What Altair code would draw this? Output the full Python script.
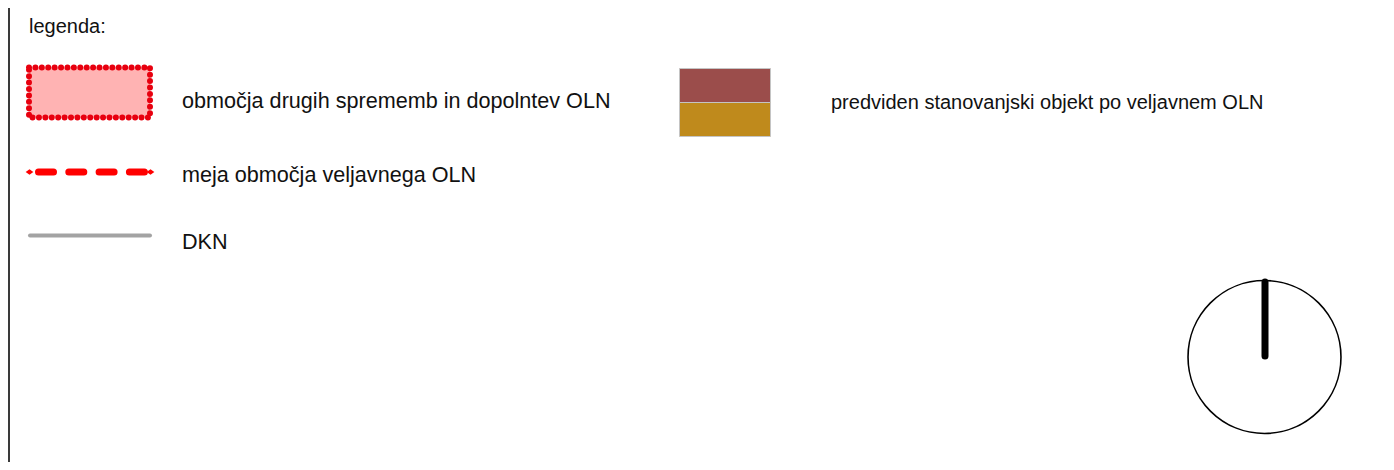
import altair as alt
import pandas as pd

# ---- content -------------------------------------------------------------
legend_title = ["legenda:"]
left_labels = [
    "območja drugih sprememb in dopolntev OLN",
    "meja območja veljavnega OLN",
    "DKN",
]
right_labels = ["predviden stanovanjski objekt po veljavnem OLN"]
building_parts = ["streha", "objekt"]
building_colors = ["#9b4d4b", "#bf8a1c"]

# ---- layout (reference-image pixel space) --------------------------------
left_label_base = [108, 182, 249]
SX = alt.Scale(domain=[0, 1394], range=[-8, 1386], nice=False, zero=False)
SY = alt.Scale(domain=[0, 470], range=[-8, 462], nice=False, zero=False)


def X(f="x"):
    return alt.X(f"{f}:Q", scale=SX, axis=None)


def Y(f="y"):
    return alt.Y(f"{f}:Q", scale=SY, axis=None)


border = alt.Chart(pd.DataFrame({"x": [9], "y": [0], "y2": [470]})).mark_rule(
    color="#3a3a3a", strokeWidth=2
).encode(x=X(), y=Y(), y2="y2:Q")

zone = alt.Chart(pd.DataFrame({"x": [29], "x2": [150], "y": [67.5], "y2": [117.5]})).mark_rect(
    fill="#ffb3b3", stroke="#e8000f", strokeWidth=6, strokeDash=[0.01, 6.4], strokeCap="round"
).encode(x=X(), x2="x2:Q", y=Y(), y2="y2:Q")

boundary = alt.Chart(pd.DataFrame({"x": [38.5], "x2": [144.4], "y": [172]})).mark_rule(
    color="#ff0000", strokeWidth=7, strokeDash=[15, 15.3], strokeCap="round"
).encode(x=X(), x2="x2:Q", y=Y())

boundary_ends = alt.Chart(pd.DataFrame({"x": [29.5, 150.5], "y": [172, 172]})).mark_point(
    shape="M-1,0L0,-0.7L1,0L0,0.7Z", filled=True, color="#ff0000", size=60, opacity=1
).encode(x=X(), y=Y())

dkn = alt.Chart(pd.DataFrame({"x": [30], "x2": [150], "y": [235.5]})).mark_rule(
    color="#a3a3a3", strokeWidth=4, strokeCap="round"
).encode(x=X(), x2="x2:Q", y=Y())

building = alt.Chart(pd.DataFrame({
    "part": building_parts,
    "color": building_colors,
    "x": [679.5, 679.5], "x2": [770.5, 770.5],
    "y": [68.5, 102.5], "y2": [102.5, 136.5],
})).mark_rect(stroke="#c4c4c4", strokeWidth=1).encode(
    x=X(), x2="x2:Q", y=Y(), y2="y2:Q", fill=alt.Fill("color:N", scale=None)
)

title_txt = alt.Chart(pd.DataFrame({"t": legend_title, "x": [29], "y": [33]})).mark_text(
    align="left", baseline="alphabetic", font="Liberation Sans", fontSize=20, color="#111111"
).encode(x=X(), y=Y(), text="t:N")

left_txt = alt.Chart(pd.DataFrame({"t": left_labels, "x": [182] * 3, "y": left_label_base})).mark_text(
    align="left", baseline="alphabetic", font="Liberation Sans", fontSize=21.6, color="#111111"
).encode(x=X(), y=Y(), text="t:N")

right_txt = alt.Chart(pd.DataFrame({"t": right_labels, "x": [831], "y": [109]})).mark_text(
    align="left", baseline="alphabetic", font="Liberation Sans", fontSize=20, color="#111111"
).encode(x=X(), y=Y(), text="t:N")

ring = alt.Chart(pd.DataFrame({"x": [1264.5], "y": [357]})).mark_point(
    shape="circle", filled=False, stroke="#000000", strokeWidth=1.6, size=23400, opacity=1
).encode(x=X(), y=Y())

needle = alt.Chart(pd.DataFrame({"x": [1265], "y": [282], "y2": [356]})).mark_rule(
    color="#000000", strokeWidth=7, strokeCap="round"
).encode(x=X(), y=Y(), y2="y2:Q")

chart = alt.layer(
    border, zone, boundary, boundary_ends, dkn, building,
    title_txt, left_txt, right_txt, ring, needle,
).properties(
    width=1378, height=454, padding=0, autosize=alt.AutoSizeParams(type="none"),
    background="#ffffff",
).configure_view(stroke=None)

chart.save("out.html", embed_options={"renderer": "svg", "actions": False})
